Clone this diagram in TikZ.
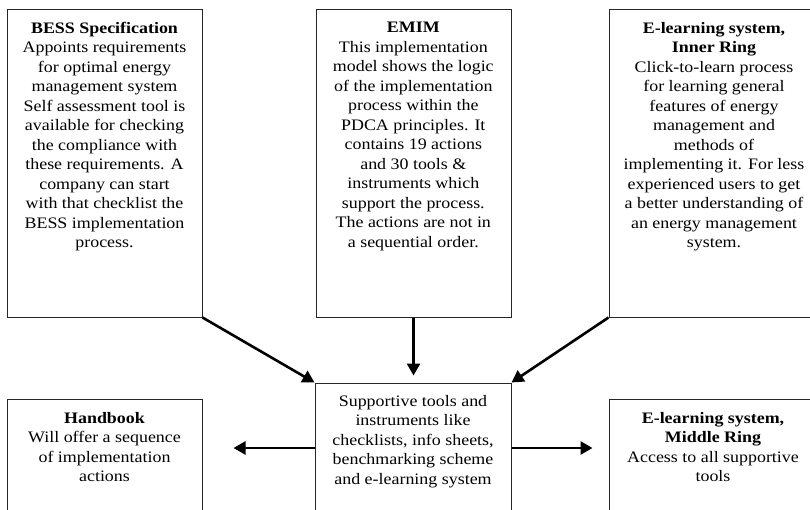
\documentclass[tikz,border=0pt]{standalone}
\usepackage{fontspec}
\setmainfont{Liberation Serif}[FakeStretch=1.12]
\usetikzlibrary{arrows.meta}
\begin{document}
\begin{tikzpicture}[x=1pt,y=-1pt,
  box/.style={draw=black!85, line width=1pt, inner sep=0pt},
  txt/.style={align=center, inner sep=0pt, anchor=north, font=\fontsize{16}{19.5}\selectfont},
  arr/.style={line width=2.6pt, -{Triangle[length=12pt,width=13pt]}}]
\useasboundingbox (0,0) rectangle (810,509);
\begin{scope}
\clip (0,0) rectangle (810,509);
% boxes
\node[box, minimum width=195pt, minimum height=307.5pt] (bess) at (104.5,163.25) {};
\node[box, minimum width=195pt, minimum height=307.5pt] (emim) at (413.5,163.25) {};
\node[box, minimum width=211pt, minimum height=307.5pt] (inner) at (714.5,163.25) {};
\node[box, minimum width=196pt, minimum height=130pt] (central) at (413,448) {};
\node[box, minimum width=195pt, minimum height=131pt] (hb) at (104.5,464.5) {};
\node[box, minimum width=211pt, minimum height=131pt] (mid) at (714.5,464.5) {};
% texts
\node[txt] (bessT) at (104.5,22) {\textbf{BESS Specification}\\Appoints requirements\\for optimal energy\\management system\\Self assessment tool is\\available for checking\\the compliance with\\these requirements. A\\company can start\\with that checklist the\\BESS implementation\\process.};
\node[txt] (emimT) at (413.3,22) {\textbf{EMIM}\\This implementation\\model shows the logic\\of the implementation\\process within the\\PDCA principles. It\\contains 19 actions\\and 30 tools \&\\instruments which\\support the process.\\The actions are not in\\a sequential order.};
\node[txt] (innerT) at (714,22) {\textbf{E-learning system,}\\\textbf{Inner Ring}\\Click-to-learn process\\for learning general\\features of energy\\management and\\methods of\\implementing it. For less\\experienced users to get\\a better understanding of\\an energy management\\system.};
\node[txt] (centralT) at (413,395) {Supportive tools and\\instruments like\\checklists, info sheets,\\benchmarking scheme\\and e-learning system};
\node[txt] (hbT) at (104.5,412) {\textbf{Handbook}\\Will offer a sequence\\of implementation\\actions};
\node[txt] (midT) at (713,412) {\textbf{E-learning system,}\\\textbf{Middle Ring}\\Access to all supportive\\tools};
% arrows
\draw[arr] (bess.south east) -- (central.north west);
\draw[arr, shorten >=7pt] (emim.south) -- (emim.south |- central.north);
\draw[arr] (inner.south west) -- (central.north east);
\draw[arr, shorten >=31pt] (central.west) -- (hb.east |- central.west);
\draw[arr, shorten >=16pt] (central.east) -- (mid.west |- central.east);
\end{scope}
\end{tikzpicture}
\end{document}
